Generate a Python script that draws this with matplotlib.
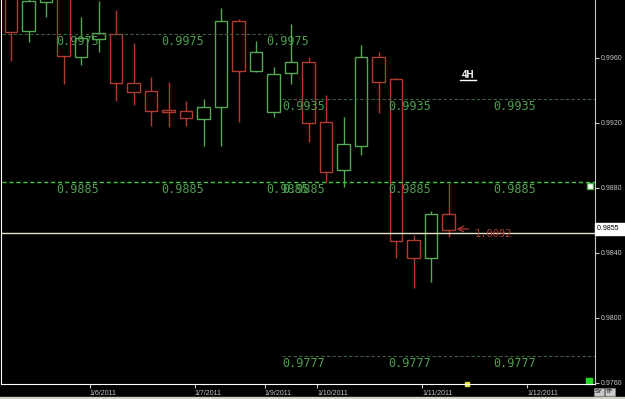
import numpy as np
import matplotlib
matplotlib.use("Agg")
import matplotlib.pyplot as plt
from matplotlib.patches import Rectangle
from matplotlib.lines import Line2D

# 4H candles, oldest first
opens  = [1.0002, 0.99766, 0.99945, 1.0003, 0.99606, 0.99717, 0.99748, 0.99446, 0.99397,
          0.99280, 0.99274, 0.99225, 0.99298, 0.99828, 0.99520, 0.99268, 0.99508, 0.99575,
          0.99206, 0.98911, 0.99058, 0.99606, 0.99471, 0.98480, 0.98369, 0.98640]
highs  = [1.0006, 0.9999, 1.0004, 1.0008, 0.99852, 0.99951, 0.99895, 0.99692, 0.99483,
          0.99452, 0.99335, 0.99348, 0.99908, 0.99840, 0.99705, 0.99545, 0.99809, 0.99606,
          0.99372, 0.99237, 0.99680, 0.99637, 0.99477, 0.98511, 0.98658, 0.98831]
lows   = [0.99582, 0.99698, 0.99852, 0.99440, 0.99557, 0.99637, 0.99335, 0.99311, 0.99182,
          0.99175, 0.99182, 0.99058, 0.99058, 0.99206, 0.99514, 0.99237, 0.99440, 0.99083,
          0.98837, 0.98806, 0.99003, 0.99262, 0.98369, 0.98185, 0.98222, 0.98498]
closes = [0.99760, 0.99951, 1.0000, 0.99612, 0.99723, 0.99754, 0.99446, 0.99391, 0.99274,
          0.99268, 0.99231, 0.99298, 0.99828, 0.99520, 0.99637, 0.99502, 0.99575, 0.99200,
          0.98898, 0.99071, 0.99606, 0.99452, 0.98474, 0.98369, 0.98640, 0.98542]

date_pos = [4.5, 10.5, 14.5, 17.5, 23.5, 29.5]
date_labels = ["1/6/2011", "1/7/2011", "1/9/2011", "1/10/2011", "1/11/2011", "1/12/2011"]

yticks = [0.9760, 0.9800, 0.9840, 0.9880, 0.9920, 0.9960]

# level lines: price, start, end, label text, label positions
lvl_975 = 0.99748
lvl_935 = 0.99348
lvl_885 = 0.98837
lvl_777 = 0.97766
first_pos = [3.83, 9.83, 15.83]
second_pos = [16.74, 22.8, 28.8]
split_x = 15.5

last_price = 0.98523
green = "#55a855"
red = "#b23a30"
txt_green = "#4f9f4f"
dim_line = "#3e5e3e"

fig = plt.figure(figsize=(6.25, 3.99), dpi=100, facecolor="black")
ax = fig.add_axes([0.0024, 0.0376, 0.9496, 0.9624])
ax.set_facecolor("black")
x0, x1 = -0.543, 33.37
ax.set_xlim(x0, x1)
ax.set_ylim(0.975938, 0.999569)

w = 0.7
for i in range(len(opens)):
    o, h, l, c = opens[i], highs[i], lows[i], closes[i]
    col = green if c >= o else red
    top, bot = max(o, c), min(o, c)
    ax.add_patch(Rectangle((i - w / 2, bot), w, top - bot, fill=False,
                           edgecolor=col, linewidth=1.0))
    ax.vlines(i, top, h, color=col, linewidth=1.0)
    ax.vlines(i, l, bot, color=col, linewidth=1.0)

# levels
ax.hlines(lvl_975, x0, split_x, color=dim_line, linewidth=0.8, linestyle=(0, (3, 2)))
ax.hlines(lvl_935, split_x, x1, color=dim_line, linewidth=0.8, linestyle=(0, (3, 2)))
ax.hlines(lvl_777, split_x, x1, color=dim_line, linewidth=0.8, linestyle=(0, (3, 2)))
ax.hlines(lvl_885, x0, x1, color="#3ccc3c", linewidth=1.0, linestyle=(0, (3, 2)))
ax.axhline(last_price, color="#e8e4c8", linewidth=1.0)

off = 0.00048
fs = 8.5
for xp in first_pos:
    ax.text(xp, lvl_975 - off, "0.9975", color=txt_green, fontsize=fs,
            family="DejaVu Sans Mono", ha="center", va="center")
    ax.text(xp, lvl_885 - off, "0.9885", color=txt_green, fontsize=fs,
            family="DejaVu Sans Mono", ha="center", va="center")
for xp in second_pos:
    ax.text(xp, lvl_935 - off, "0.9935", color=txt_green, fontsize=fs,
            family="DejaVu Sans Mono", ha="center", va="center")
    ax.text(xp, lvl_885 - off, "0.9885", color=txt_green, fontsize=fs,
            family="DejaVu Sans Mono", ha="center", va="center")
    ax.text(xp, lvl_777 - off, "0.9777", color=txt_green, fontsize=fs,
            family="DejaVu Sans Mono", ha="center", va="center")

# timeframe title
ax.text(26.1, 0.99495, "4H", color="white", fontsize=7, fontweight="bold",
        ha="center", va="center", family="Liberation Sans")
ax.add_line(Line2D([25.65, 26.55], [0.99463, 0.99463], color="white", linewidth=1.0))

# arrow + price note
ax.annotate("", xy=(25.3, 0.98548), xytext=(26.3, 0.98548),
            arrowprops=dict(arrowstyle="->", color=red, lw=0.9))
ax.text(26.5, 0.98517, "1.0092", color=red, fontsize=7.5,
        family="DejaVu Sans Mono", ha="left", va="center")

# axes styling
ax.spines["top"].set_visible(False)
ax.spines["left"].set_color("white")
ax.spines["bottom"].set_color("white")
ax.spines["right"].set_color("#c8c8c8")
ax.yaxis.tick_right()
ax.set_yticks(yticks)
ax.set_yticklabels(["%.4f" % v for v in yticks])
ax.set_xticks(date_pos)
ax.set_xticklabels(date_labels, ha="left")
ax.tick_params(axis="both", colors="#c8c8c8", labelsize=5, length=3, width=0.8, pad=1)
for lab in ax.get_xticklabels() + ax.get_yticklabels():
    lab.set_family("Liberation Sans")
ax.set_ylim(0.975938, 0.999569)

# current price box on the axis
ax.text(1.004, 0.98548, "0.9855  ", transform=ax.get_yaxis_transform(), fontsize=5,
        family="Liberation Sans", color="black", ha="left", va="center",
        bbox=dict(boxstyle="square,pad=0.3", fc="white", ec="white"))

# small markers
ax.plot([26.06], [0.975938], marker="s", color="#e8e040", markersize=2.5, clip_on=False)
ax.plot([33.0], [0.97615], marker="s", color="#22dd22", markersize=5, clip_on=False)
ax.plot([33.1], [0.98810], marker="s", mfc="white", mec=green, markersize=4, clip_on=False)

fig.text(0.958, 0.018, "SY", fontsize=4.5, color="black", ha="center", va="center",
         bbox=dict(boxstyle="square,pad=0.2", fc="#c8c8c8", ec="#888888", lw=0.5))
fig.text(0.976, 0.018, "TF", fontsize=4.5, color="black", ha="center", va="center",
         bbox=dict(boxstyle="square,pad=0.2", fc="#c8c8c8", ec="#888888", lw=0.5))
fig.patches.append(Rectangle((0, 0), 1, 0.006, transform=fig.transFigure,
                             color="#d0d0c8", zorder=0))

fig.savefig("out.png", dpi=100, facecolor="black")
